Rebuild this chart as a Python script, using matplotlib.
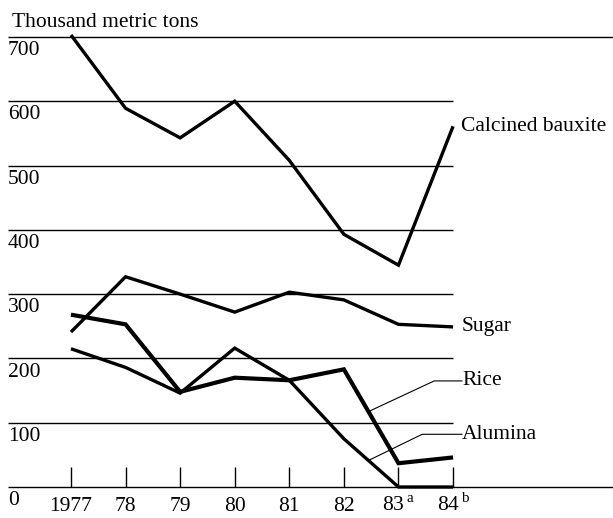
import matplotlib.pyplot as plt
import numpy as np

plt.rcParams['font.family'] = ['Liberation Serif', 'DejaVu Serif']
plt.rcParams['mathtext.fontset'] = 'custom'
plt.rcParams['mathtext.rm'] = 'Liberation Serif'

# data (thousand metric tons)
years = ['1977', '78', '79', '80', '81', '82', '83', '84']
year_notes = ['', '', '', '', '', '', 'a', 'b']
bauxite = [703, 589, 543, 600, 508, 393, 345, 561]
sugar = [241, 327, 300, 272, 303, 291, 253, 249]
rice = [268, 253, 148, 170, 166, 183, 37, 46]
alumina = [215, 186, 146, 216, 166, 75, 0, 0]
grid_values = [100, 200, 300, 400, 500, 600]
y_labels = [0, 100, 200, 300, 400, 500, 600, 700]

fig = plt.figure(figsize=(6.13, 5.18), dpi=100)
ax = fig.add_axes([0, 0, 1, 1])
ax.axis('off')
x = np.arange(len(years))
ax.set_xlim(-1.30, 9.93)
ax.set_ylim(-48.2, 757.4)

left = -1.155
fs = 15.5

# grid and baseline ticks
ax.hlines(grid_values, left, x[-1], color='black', lw=1.0)
ax.hlines([0, 700], left, 9.93, color='black', lw=1.0)
ax.vlines(x, 0, 31, color='black', lw=1.0)

# the four series
for vals, lw in [(bauxite, 2.4), (sugar, 2.4), (rice, 3.0), (alumina, 2.4)]:
    ax.plot(x, vals, color='black', lw=lw, solid_joinstyle='miter',
            solid_capstyle='butt')

# y labels sit just under their grid lines
for v in y_labels:
    ax.annotate(str(v), (left, v), xytext=(0, -3), textcoords='offset points',
                ha='left', va='top', fontsize=fs)

for xi, lbl, note in zip(x, years, year_notes):
    txt = lbl if not note else lbl + r'$^{\,\mathrm{' + note + '}}$'
    ax.annotate(txt, (xi, 0), xytext=(0, -17), textcoords='offset points',
                ha='center', va='baseline', fontsize=fs)

ax.text(0.02, 0.975, 'Thousand metric tons', transform=ax.transAxes,
        ha='left', va='top', fontsize=fs)

# series labels
for name, vals in [('Calcined bauxite', bauxite), ('Sugar', sugar)]:
    ax.annotate(name, (x[-1], vals[-1]), xytext=(6, 0),
                textcoords='offset points', ha='left', va='center', fontsize=fs)

label_x = 7.165
for name, vals, ly, ang in [('Rice', rice, 165, 25), ('Alumina', alumina, 82, 26)]:
    t = 0.45
    px = x[5] + t
    py = vals[5] + t * (vals[6] - vals[5])
    ax.annotate(name, xy=(px, py), xytext=(label_x, ly), ha='left', va='center',
                fontsize=fs,
                arrowprops=dict(arrowstyle='-', lw=0.8, color='black',
                                shrinkA=0, shrinkB=0, patchA=None, relpos=(0, 0.5),
                                connectionstyle=f'angle,angleA=0,angleB={ang},rad=0'))

fig.savefig('out.png', dpi=100)
